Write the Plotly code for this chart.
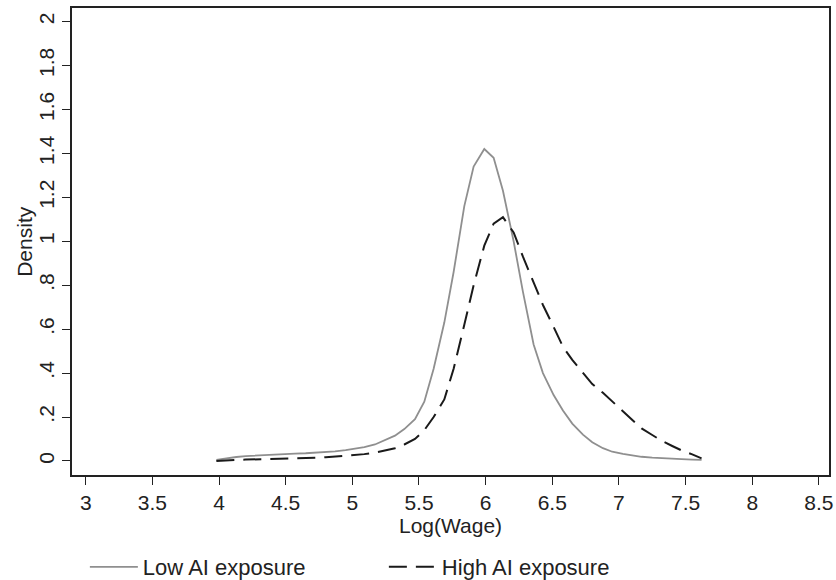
import plotly.graph_objects as go

# kernel density estimates (50 evaluation points)
log_wage = [3.98, 4.05, 4.13, 4.20, 4.28, 4.35, 4.43, 4.50, 4.57, 4.65,
            4.72, 4.80, 4.87, 4.95, 5.02, 5.09, 5.17, 5.24, 5.32, 5.39,
            5.47, 5.54, 5.61, 5.69, 5.76, 5.84, 5.91, 5.99, 6.06, 6.13,
            6.21, 6.28, 6.36, 6.43, 6.51, 6.58, 6.65, 6.73, 6.80, 6.88,
            6.95, 7.03, 7.10, 7.17, 7.25, 7.32, 7.40, 7.47, 7.55, 7.62]

low_ai = [0.005, 0.012, 0.018, 0.022, 0.025, 0.027, 0.029, 0.031, 0.033, 0.035,
          0.037, 0.040, 0.044, 0.049, 0.055, 0.063, 0.075, 0.092, 0.115, 0.145,
          0.19, 0.27, 0.42, 0.63, 0.86, 1.16, 1.34, 1.42, 1.38, 1.23,
          1.00, 0.77, 0.53, 0.40, 0.30, 0.23, 0.17, 0.12, 0.085, 0.058,
          0.042, 0.032, 0.024, 0.019, 0.015, 0.012, 0.010, 0.008, 0.006, 0.005]

high_ai = [0.000, 0.003, 0.005, 0.006, 0.007, 0.008, 0.010, 0.011, 0.012, 0.013,
           0.015, 0.017, 0.020, 0.023, 0.026, 0.031, 0.038, 0.046, 0.058, 0.075,
           0.100, 0.14, 0.20, 0.28, 0.42, 0.62, 0.80, 0.98, 1.08, 1.11,
           1.04, 0.93, 0.81, 0.71, 0.61, 0.52, 0.46, 0.40, 0.35, 0.31,
           0.27, 0.225, 0.185, 0.148, 0.118, 0.092, 0.068, 0.048, 0.030, 0.012]

x_ticks = [3, 3.5, 4, 4.5, 5, 5.5, 6, 6.5, 7, 7.5, 8, 8.5]
y_ticks = [0, 0.2, 0.4, 0.6, 0.8, 1, 1.2, 1.4, 1.6, 1.8, 2]
y_labels = ["0", ".2", ".4", ".6", ".8", "1", "1.2", "1.4", "1.6", "1.8", "2"]

FONT = "Liberation Sans, Arial, sans-serif"

fig = go.Figure()
fig.add_trace(go.Scatter(
    x=log_wage, y=low_ai, mode="lines", name="Low AI exposure",
    line=dict(color="#8f8f8f", width=1.8)
))
fig.add_trace(go.Scatter(
    x=log_wage, y=high_ai, mode="lines", name="High AI exposure",
    line=dict(color="#1a1a1a", width=2, dash="18px,9px")
))

axis_style = dict(
    showgrid=False, zeroline=False, showline=True, linecolor="#222222",
    linewidth=1.5, mirror=True, ticks="outside", ticklen=8, tickcolor="#222222",
    tickwidth=1.2, automargin=False,
)

fig.update_layout(
    width=836, height=580,
    margin=dict(l=72, r=7, t=8, b=105, autoexpand=False),
    paper_bgcolor="white", plot_bgcolor="white",
    font=dict(family=FONT, size=21, color="#222222"),
    showlegend=True,
    legend=dict(
        orientation="h", x=0.017, xanchor="left", y=-0.197, yanchor="middle",
        itemwidth=48, entrywidth=236, entrywidthmode="pixels",
        font=dict(size=22), bgcolor="rgba(0,0,0,0)"
    ),
    xaxis=dict(range=[2.897, 8.576], tickvals=x_ticks,
               ticktext=[str(v) for v in x_ticks], **axis_style),
    yaxis=dict(range=[-0.064, 2.062], tickvals=y_ticks, ticktext=y_labels,
               tickangle=-90, **axis_style),
)

# axis titles as annotations so they sit where the original puts them
fig.add_annotation(text="Log(Wage)", xref="paper", yref="paper", x=0.5, y=-0.109,
                   xanchor="center", yanchor="middle", showarrow=False,
                   font=dict(size=21))
fig.add_annotation(text="Density", xref="paper", yref="paper", x=-0.063, y=0.5,
                   xanchor="center", yanchor="middle", textangle=-90,
                   showarrow=False, font=dict(size=21))

# drop the page's default body margin so the figure sits at the window corner
fig.write_html("out.html", config={"displayModeBar": False},
               post_script="document.body.style.margin='0';")
